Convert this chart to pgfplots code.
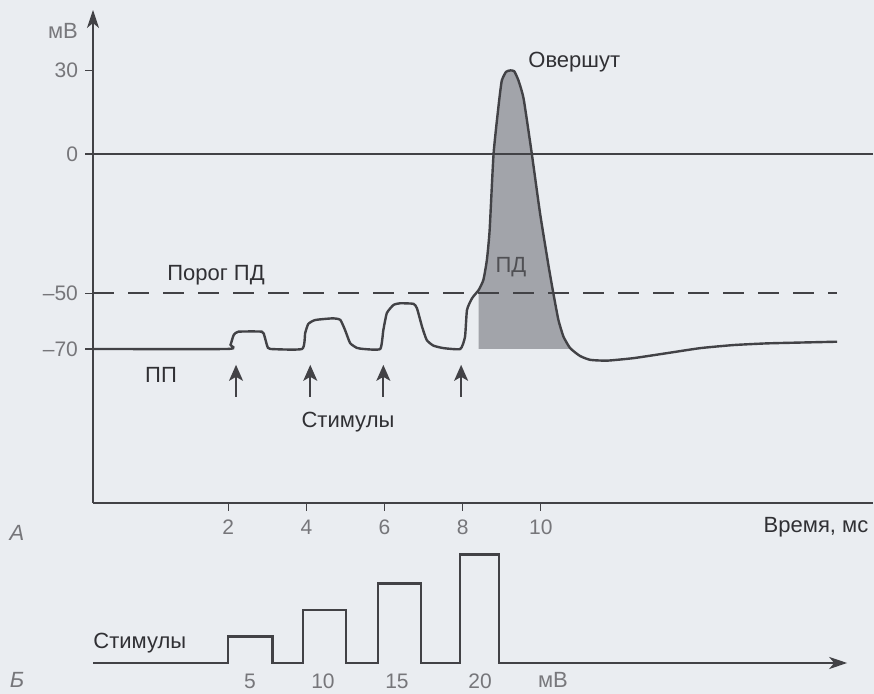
\documentclass[border=0pt]{standalone}
\usepackage{pgfplots}
\pgfplotsset{compat=1.18}
\usepackage{fontspec}
\setmainfont{Liberation Sans}
\usetikzlibrary{arrows.meta}
\definecolor{bg}{RGB}{234,237,241}
\definecolor{ink}{RGB}{66,66,70}
\definecolor{txt}{RGB}{48,48,52}
\definecolor{tickc}{RGB}{118,118,122}
\definecolor{apfill}{RGB}{162,164,170}
\definecolor{panel}{RGB}{120,120,124}
\definecolor{pdtxt}{RGB}{80,80,84}
\newcommand{\lab}{\fontsize{11}{13}\selectfont}
\newcommand{\tk}{\fontsize{10.5}{12}\selectfont}

\begin{document}
\begin{tikzpicture}
\fill[bg] (0,0) rectangle (437pt,347pt);
\useasboundingbox (0,0) rectangle (437pt,347pt);

% ---------- panel A ----------
\begin{axis}[
  at={(46.5pt,95.5pt)}, anchor=south west,
  scale only axis, width=390pt, height=246.5pt,
  xmin=-1.46, xmax=18.5, ymin=-125.3, ymax=51.7,
  axis x line=bottom, axis y line=left,
  x axis line style={-, line width=0.9pt, ink},
  y axis line style={-{Stealth[length=9pt,width=6pt,inset=2.5pt]}, line width=0.9pt, ink},
  xtick={2,4,6,8,10}, ytick={30,0,-50,-70},
  yticklabels={30,0,–50,–70},
  tick align=outside, major tick length=4pt,
  tick style={ink, line width=0.6pt},
  /pgf/number format/assume math mode=true,
  tick label style={font=\tk, text=tickc},
  xticklabel style={anchor=north, yshift=-1pt},
]
% action potential area
\addplot[fill=apfill, draw=none] coordinates {
 (8.41,-70) (8.41,-48.8) (8.53,-45.2) (8.62,-38) (8.69,-27.3) (8.79,0)
 (8.92,17.6) (9.0,26.3) (9.11,29.5) (9.22,30) (9.32,29.7) (9.43,26.3)
 (9.56,19.8) (9.77,0) (9.98,-21.3) (10.2,-40.4) (10.32,-50) (10.45,-59.6)
 (10.58,-65.6) (10.70,-69) (10.75,-70)} -- cycle;
% zero line
\addplot[ink, line width=0.9pt] coordinates {(-1.46,0) (18.5,0)};
% threshold
\addplot[ink, line width=0.8pt, dash pattern=on 10.5pt off 7pt] coordinates {(-1.46,-50) (17.58,-50)};
% membrane potential
\addplot[ink, line width=1.2pt, smooth, tension=0.3] coordinates {
 (-1.46,-70) (1.99,-70) (2.06,-68.5) (2.14,-65) (2.26,-63.8) (2.86,-63.8) (2.93,-65.5) (3.0,-69) (3.08,-70)
 (3.89,-70) (3.97,-64.3) (4.05,-61) (4.23,-59.6) (4.69,-59) (4.87,-59.6) (4.99,-63.2) (5.12,-67.9) (5.29,-69.6) (5.46,-70)
 (5.89,-70) (5.97,-63.2) (6.06,-57.1) (6.23,-54.2) (6.40,-53.6) (6.74,-53.8) (6.83,-55.4) (6.96,-62) (7.08,-66.8) (7.25,-68.8) (7.51,-69.7) (7.94,-70)
 (8.06,-65.6) (8.11,-56) (8.24,-51.8) (8.41,-48.8) (8.53,-45.2) (8.62,-38) (8.69,-27.3) (8.79,0) (8.92,17.6) (9.0,26.3) (9.11,29.5) (9.22,30) (9.32,29.7) (9.43,26.3) (9.56,19.8) (9.77,0) (9.98,-21.3) (10.2,-40.4) (10.32,-50) (10.45,-59.6) (10.58,-65.6) (10.75,-69.7) (11.0,-72.5) (11.26,-73.9) (11.69,-74.2) (12.37,-73.3) (13.23,-71.5) (14.08,-69.7) (14.93,-68.6) (15.78,-68) (16.64,-67.7) (17.58,-67.4)};
% stimulus arrows
\addplot[ink, line width=0.9pt, -{Stealth[length=8pt,width=7pt,inset=2pt]}] coordinates {(2.2,-87.2) (2.2,-75.7)};
\addplot[ink, line width=0.9pt, -{Stealth[length=8pt,width=7pt,inset=2pt]}] coordinates {(4.1,-87.2) (4.1,-75.7)};
\addplot[ink, line width=0.9pt, -{Stealth[length=8pt,width=7pt,inset=2pt]}] coordinates {(5.97,-87.2) (5.97,-75.7)};
\addplot[ink, line width=0.9pt, -{Stealth[length=8pt,width=7pt,inset=2pt]}] coordinates {(7.96,-87.2) (7.96,-75.7)};
\end{axis}

% ---------- panel B ----------
\begin{axis}[
  at={(46.5pt,15.5pt)}, anchor=south west,
  scale only axis, width=390pt, height=58.3pt,
  xmin=-1.46, xmax=18.5, ymin=0, ymax=22,
  hide axis, clip=false,
]
\addplot[ink, line width=1.2pt, -{Stealth[length=9pt,width=6pt,inset=2.5pt]}] coordinates {
 (-1.46,0) (2.0,0) (2.0,5) (3.13,5) (3.13,0) (3.92,0) (3.92,10) (5.02,10) (5.02,0)
 (5.84,0) (5.84,15) (6.94,15) (6.94,0) (7.93,0) (7.93,20.5) (8.93,20.5) (8.93,0) (17.84,0)};
\end{axis}

% ---------- text ----------
\begin{scope}[every node/.style={inner sep=0pt}]
\node[text=panel, font=\lab] at (31.5pt,331.5pt) {мВ};
\node[text=txt, font=\lab, anchor=west] at (264pt,316pt) {Овершут};
\node[text=pdtxt, font=\lab] at (255.5pt,213.5pt) {ПД};
\node[text=txt, font=\lab] at (108pt,209.5pt) {Порог ПД};
\node[text=txt, font=\lab] at (80.5pt,159.5pt) {ПП};
\node[text=txt, font=\lab] at (174pt,136pt) {Стимулы};
\node[text=txt, font=\lab] at (408pt,83.5pt) {Время, мс};
\node[text=tickc, font=\lab\itshape] at (8.5pt,80.5pt) {А};
\node[text=txt, font=\lab, anchor=west] at (46.5pt,25.5pt) {Стимулы};
\node[text=tickc, font=\lab\itshape] at (8.5pt,7pt) {Б};
\node[text=tickc, font=\tk] at (125pt,6.5pt) {5};
\node[text=tickc, font=\tk] at (161.5pt,6.5pt) {10};
\node[text=tickc, font=\tk] at (198.5pt,6.5pt) {15};
\node[text=tickc, font=\tk] at (240pt,6.5pt) {20};
\node[text=panel, font=\lab] at (276.5pt,7pt) {мВ};
\end{scope}
\end{tikzpicture}
\end{document}
